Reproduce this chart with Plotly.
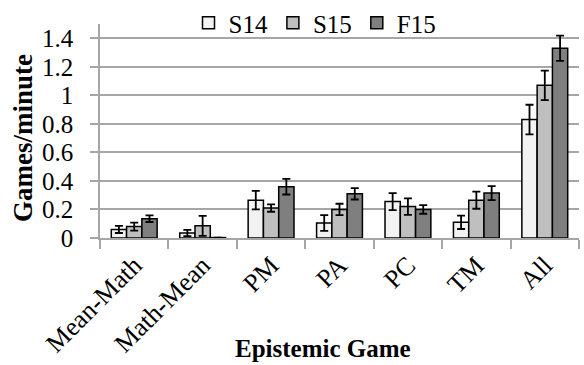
import plotly.graph_objects as go

categories = ["Mean-Math", "Math-Mean", "PM", "PA", "PC", "TM", "All"]
series_names = ["S14", "S15", "F15"]
s14 = [0.06, 0.035, 0.265, 0.105, 0.255, 0.11, 0.83]
s15 = [0.08, 0.085, 0.21, 0.20, 0.22, 0.265, 1.07]
f15 = [0.135, 0.003, 0.36, 0.31, 0.20, 0.315, 1.33]
s14_err = [0.025, 0.022, 0.065, 0.055, 0.06, 0.047, 0.104]
s15_err = [0.028, 0.07, 0.026, 0.04, 0.058, 0.06, 0.103]
f15_err = [0.023, 0.0, 0.055, 0.04, 0.03, 0.049, 0.088]
colors = ["#f2f2f2", "#bfbfbf", "#7f7f7f"]

FONT = "Liberation Serif"
GRID = "#a6a6a6"

fig = go.Figure()
for name, vals, errs, col in zip(series_names, [s14, s15, f15], [s14_err, s15_err, f15_err], colors):
    fig.add_trace(go.Bar(
        name=name, x=categories, y=vals,
        marker=dict(color=col, line=dict(color="black", width=1.5)),
        error_y=dict(type="data", array=errs, visible=True, color="black", thickness=1.8, width=4),
    ))

L, R, T, B = 100, 5, 24, 127
pw, ph = 584 - L - R, 365 - T - B

fig.update_layout(
    width=584, height=365,
    margin=dict(l=L, r=R, t=T, b=B, autoexpand=False),
    plot_bgcolor="white", paper_bgcolor="white",
    barmode="group", bargap=0.33, bargroupgap=0,
    font=dict(family=FONT, color="black", size=22),
    legend=dict(orientation="h", x=(315 - L) / pw, xref="paper", xanchor="center",
                y=1.0, yref="container", yanchor="top",
                font=dict(family=FONT, size=25), itemwidth=30, tracegroupgap=0,
                bgcolor="rgba(0,0,0,0)"),
    showlegend=True,
    annotations=[
        dict(text="<b>Epistemic Game</b>", x=(323 - L) / pw, y=(365 - B - 348) / ph,
             xref="paper", yref="paper", showarrow=False,
             font=dict(family=FONT, size=25), xanchor="center", yanchor="middle"),
        dict(text="<b>Games/minute</b>", x=(23 - L) / pw, y=(365 - B - 138) / ph,
             xref="paper", yref="paper", showarrow=False,
             font=dict(family=FONT, size=27), textangle=-90, xanchor="center", yanchor="middle"),
    ],
)

fig.update_xaxes(
    showline=True, linecolor=GRID, linewidth=1.5,
    ticks="outside", tickson="boundaries", ticklen=9, tickcolor=GRID, tickwidth=1.5,
    tickangle=-45, tickfont=dict(family=FONT, size=26),
)
fig.update_yaxes(
    range=[0, 1.5], tickvals=[0, 0.2, 0.4, 0.6, 0.8, 1.0, 1.2, 1.4],
    ticktext=["0", "0.2", "0.4", "0.6", "0.8", "1", "1.2", "1.4"],
    showgrid=True, gridcolor=GRID, gridwidth=1.5,
    showline=True, linecolor=GRID, linewidth=1.5,
    ticks="outside", ticklen=8, tickcolor=GRID, tickwidth=1.5,
    tickfont=dict(family=FONT, size=25), ticklabelstandoff=12,
    zeroline=False,
)
fig.write_html("out.html", post_script="document.body.style.margin='0';",
               config={"displayModeBar": False})
